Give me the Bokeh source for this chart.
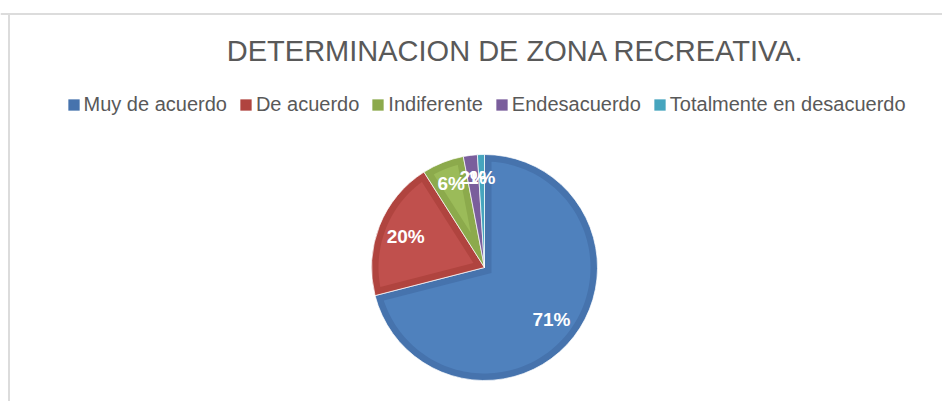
import numpy as np
from bokeh.plotting import figure
from bokeh.models import ColumnDataSource, Legend, LegendItem, Label, Span, Range1d
from bokeh.core.properties import value
from bokeh.embed import file_html
from bokeh.resources import INLINE

# ---- data ----
title_text = "DETERMINACION DE ZONA RECREATIVA."
categories = ["Muy de acuerdo", "De acuerdo", "Indiferente", "Endesacuerdo",
              "Totalmente en desacuerdo"]
percent = [71, 20, 6, 2, 1]
pct_labels = ["71%", "20%", "6%", "2%", "1%"]
colors_main = ["#4F81BD", "#C0504D", "#9BBB59", "#8064A2", "#4BACC6"]
colors_rim = ["#4673AD", "#B0443F", "#8CAA4C", "#7A5E9C", "#46A5BE"]

# ---- layout ----
W, H = 942, 401
cx, cy, r = 484.0, 134.0, 113.0
bevel = 7.0

p = figure(width=W, height=H, x_range=Range1d(0, W), y_range=Range1d(0, H),
           output_backend="svg", toolbar_location=None, min_border=0,
           x_axis_location=None, y_axis_location=None)
p.grid.visible = False
p.outline_line_color = None
p.background_fill_color = "white"
p.border_fill_color = "white"

vals = np.array(percent, dtype=float)
frac = vals / vals.sum()
cum_end = np.cumsum(frac)
cum_start = cum_end - frac
start = np.pi / 2 - 2 * np.pi * cum_end
end = np.pi / 2 - 2 * np.pi * cum_start
mid = (start + end) / 2

src = ColumnDataSource(dict(start=start, end=end, rim=colors_rim, main=colors_main,
                            cat=categories))
wr = p.wedge(x=cx, y=cy, radius=r, start_angle="start", end_angle="end",
             fill_color="rim", line_color="white", line_width=1, line_alpha=0.7,
             source=src)

# inner (lighter) bevelled faces
xs, ys, fc = [], [], []
R = r - bevel
dlt = np.arcsin(bevel / R)
for i in range(len(vals)):
    half = (end[i] - start[i]) / 2
    apex = bevel / np.sin(half)
    a0, a1 = start[i] + dlt, end[i] - dlt
    if a1 <= a0 or apex > R * 0.8:
        continue
    t = np.linspace(a0, a1, 120)
    xs.append([cx + apex * np.cos(mid[i])] + list(cx + R * np.cos(t)))
    ys.append([cy + apex * np.sin(mid[i])] + list(cy + R * np.sin(t)))
    fc.append(colors_main[i])
p.patches(xs=xs, ys=ys, fill_color=fc, line_color=None)

# percentage labels (small slices pushed a little further out, as in best-fit)
lr = np.where(frac < 0.1, 0.8 * r, 0.75 * r)
lab_src = ColumnDataSource(dict(x=cx + lr * np.cos(mid), y=cy + lr * np.sin(mid),
                                t=pct_labels))
p.text(x="x", y="y", text="t", source=lab_src, text_color="white",
       text_font=value("Liberation Sans"), text_font_style="bold",
       text_font_size="19px", text_align="center", text_baseline="middle")

# title
p.add_layout(Label(x=515, y=351, text=title_text, text_align="center",
                   text_baseline="middle", text_font_size="29px",
                   text_color="#595959", text_font="Liberation Sans"))

# legend
items = [LegendItem(label=categories[i], renderers=[wr], index=i)
         for i in range(len(categories))]
legend = Legend(items=items, orientation="horizontal", location=(65.5, 285),
                label_text_font_size="20px", label_text_color="#595959",
                label_text_font="Liberation Sans", glyph_width=15, glyph_height=15,
                label_standoff=3, spacing=11, padding=0, margin=0,
                border_line_color=None, background_fill_alpha=0)
p.add_layout(legend)

# chart area border (left and top edges visible)
p.segment(x0=8.5, y0=0, x1=8.5, y1=388.5, line_color="#dcdcdc", line_width=2)
p.add_layout(Span(location=387.5, dimension="width", line_color="#dcdcdc", line_width=2))

open("out.html", "w").write(file_html(p, INLINE))
